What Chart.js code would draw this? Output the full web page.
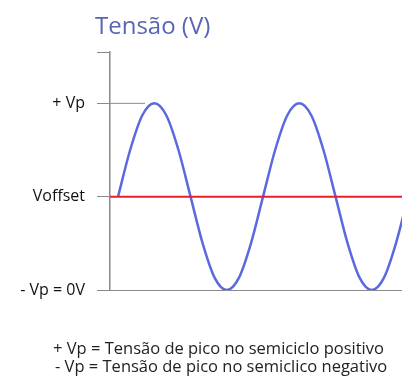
<!DOCTYPE html>
<html>
<head>
<meta charset="utf-8">
<script src="https://cdn.jsdelivr.net/npm/chart.js@4.4.0/dist/chart.umd.min.js"></script>
<style>
  body { margin: 0; background: #fff; }
  #wrap { position: relative; width: 402px; height: 387px; font-family: "Open Sans", sans-serif; }
  #title { position: absolute; left: 95px; top: 8px; font-size: 24px; color: #5865b4; white-space: nowrap; }
  .note { position: absolute; font-size: 16.5px; line-height: 18px; color: #222; white-space: nowrap; }
</style>
</head>
<body>
<div id="wrap">
  <canvas id="chart" width="402" height="387"></canvas>
  <div id="title">Tensão (V)</div>
  <div class="note" style="left:53px;top:339px">+ Vp = Tensão de pico no semiciclo positivo</div>
  <div class="note" style="left:55px;top:357px">- Vp = Tensão de pico no semiclico negativo</div>
</div>
<script>
// phase in degrees, voltage in units where -Vp = 0, Voffset = 1, +Vp = 2
const phase  = [0, 30, 60, 90, 120, 150, 180, 210, 240, 270, 300, 330, 360,
                390, 420, 450, 480, 510, 540, 570, 600, 630, 660, 690, 720];
const tensao = [1, 1.5, 1.87, 2, 1.87, 1.5, 1, 0.5, 0.13, 0, 0.13, 0.5, 1,
                1.5, 1.87, 2, 1.87, 1.5, 1, 0.5, 0.13, 0, 0.13, 0.5, 1];

const xRange = [-20, 705];
const yTickValues = [0, 1, 2, 2.55];
const yTickLabels = ['- Vp = 0V', 'Voffset', '+ Vp', ''];
const vOffset = 1;
const vPeak = 2;
const peakGuideEnd = 67;

const grey = '#8a8a8a';

new Chart(document.getElementById('chart').getContext('2d'), {
  type: 'line',
  data: {
    datasets: [{
      label: 'Voffset',
      data: [{x: xRange[0], y: vOffset}, {x: xRange[1], y: vOffset}],
      borderColor: '#e8202c',
      borderWidth: 2,
      pointRadius: 0
    }, {
      label: 'Tensão',
      data: phase.map((p, i) => ({x: p, y: tensao[i]})),
      borderColor: '#5a69e0',
      borderWidth: 2.5,
      pointRadius: 0,
      cubicInterpolationMode: 'monotone'
    }, {
      label: '+ Vp',
      data: [{x: xRange[0], y: vPeak}, {x: peakGuideEnd, y: vPeak}],
      borderColor: grey,
      borderWidth: 1,
      pointRadius: 0
    }]
  },
  options: {
    responsive: false,
    animation: false,
    layout: { padding: { top: 52, bottom: 97, left: 0, right: 0 } },
    plugins: {
      legend: { display: false },
      tooltip: { enabled: false },
      title: { display: false }
    },
    scales: {
      x: {
        type: 'linear',
        min: xRange[0],
        max: xRange[1],
        ticks: { display: false },
        grid: { display: false, drawTicks: false },
        border: { display: true, color: grey, width: 1 },
        afterFit: s => { s.height = 0; }
      },
      y: {
        min: 0,
        max: 2.55,
        afterBuildTicks: s => { s.ticks = yTickValues.map(v => ({value: v})); },
        ticks: {
          padding: 12,
          color: '#111',
          font: { family: 'Open Sans', size: 16 },
          callback: v => yTickLabels[yTickValues.indexOf(v)]
        },
        grid: { drawOnChartArea: false, tickLength: 13, color: grey, lineWidth: 1 },
        border: { color: grey, width: 1.5 },
        afterFit: s => { s.width = 110; }
      }
    }
  }
});
</script>
</body>
</html>
